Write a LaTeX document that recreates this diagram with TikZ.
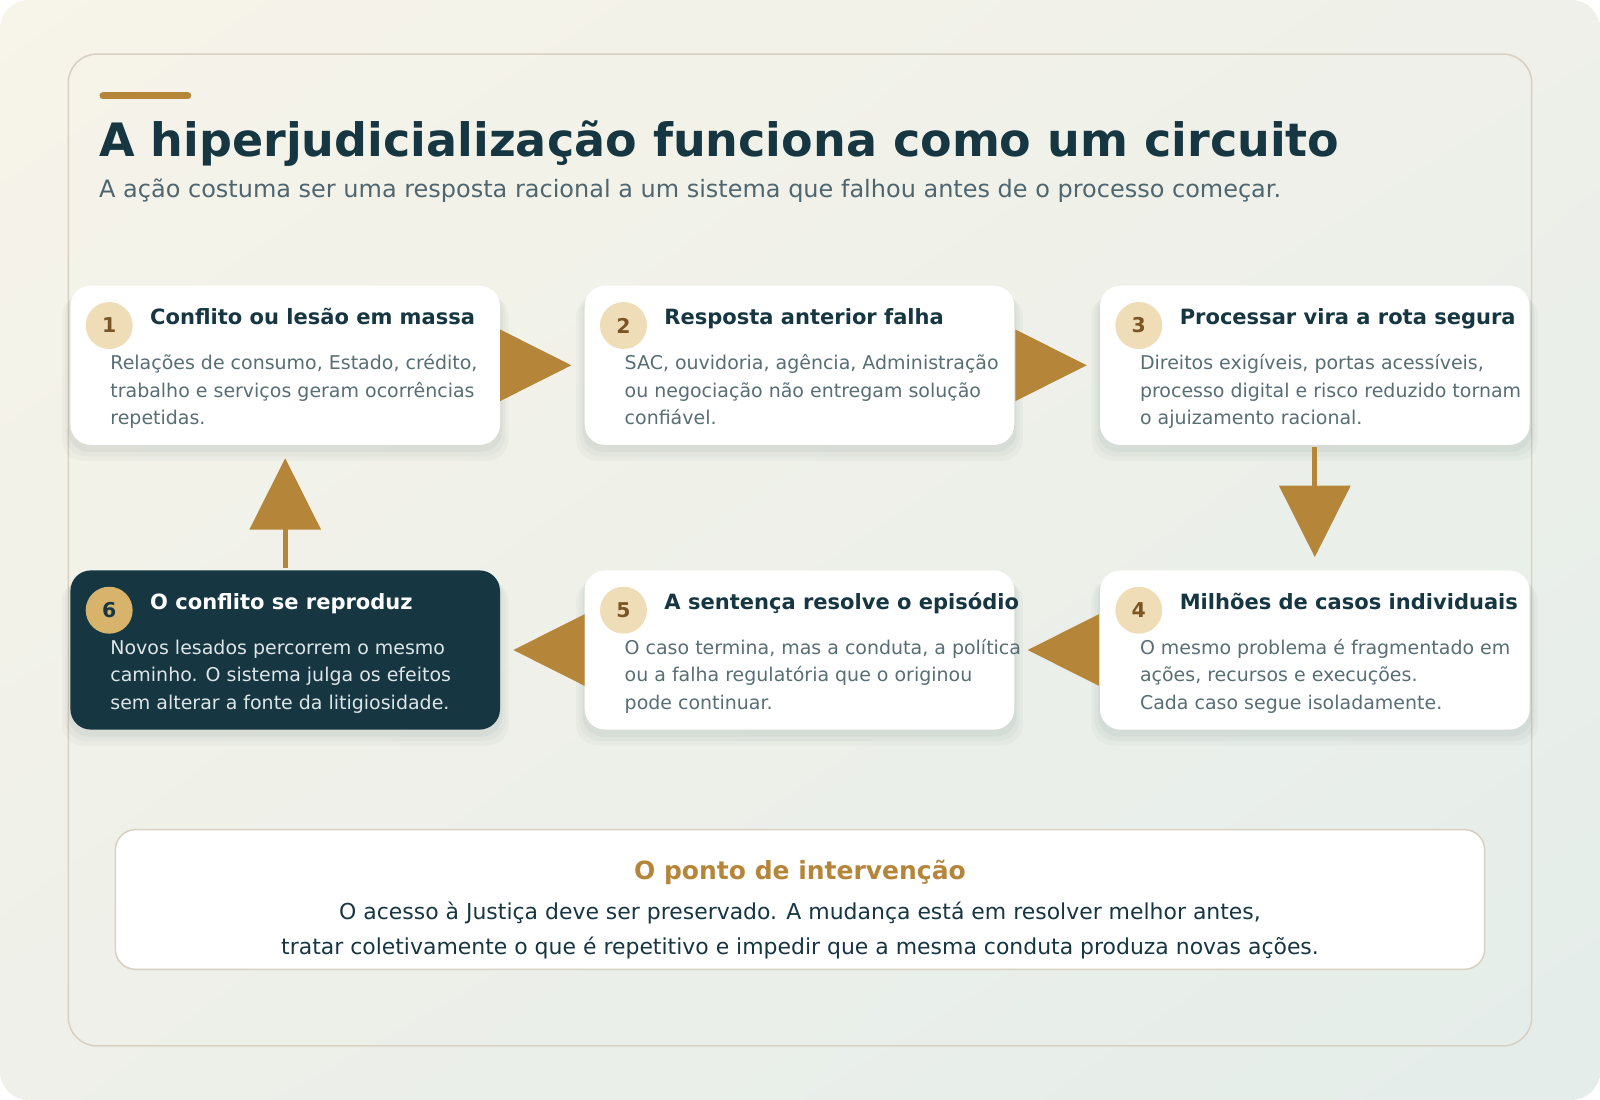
\documentclass[tikz,border=0pt]{standalone}
\usepackage{fontspec}
\setmainfont{DejaVu Sans}
\usetikzlibrary{positioning,arrows.meta,shadows,shadings}
\definecolor{ink}{HTML}{163642}
\definecolor{gold}{HTML}{B5863A}
\definecolor{cream}{HTML}{F7F4E9}
\definecolor{mint}{HTML}{E4EDEA}
\definecolor{midbg}{HTML}{EEF0E9}
\definecolor{rim}{HTML}{D8D0C2}
\definecolor{muted}{HTML}{586E75}
\definecolor{subtle}{HTML}{4E6670}
\definecolor{tan}{HTML}{EFDDB8}
\definecolor{brown}{HTML}{7B5523}
\definecolor{sand}{HTML}{D8B36C}
\definecolor{pale}{HTML}{DDE5E7}
\definecolor{haze}{HTML}{3E5A5A}

\begin{document}
\begin{tikzpicture}[x=1pt, y=-1pt,
  card/.style={rectangle, rounded corners=20pt, fill=white, minimum width=421pt, minimum height=156pt, inner sep=0pt, outer sep=0pt,
    general shadow={fill=haze, fill opacity=.035, shadow yshift=-12pt, shadow scale=1.04},
    general shadow={fill=haze, fill opacity=.04, shadow yshift=-9pt, shadow scale=1.025},
    general shadow={fill=haze, fill opacity=.05, shadow yshift=-6pt, shadow scale=1.01}},
  darkcard/.style={card, fill=ink},
  badge/.style={circle, fill=tan, text=brown, minimum size=46pt, inner sep=0pt, font=\fontsize{20}{24}\selectfont\bfseries},
  head/.style={anchor=base west, inner sep=0pt, text=ink, font=\fontsize{20.6}{24}\selectfont\bfseries},
  body/.style={anchor=north west, inner sep=0pt, align=left, text=muted, font=\fontsize{18.6}{27}\selectfont},
  flow/.style={draw=gold, line width=5pt, -{Triangle[length=70pt, width=69pt]}, shorten >=13pt, shorten <=2pt},
  note/.style={rectangle, rounded corners=20pt, draw=rim, line width=1.5pt, fill=white, minimum width=1342pt, minimum height=137pt},
  node distance=83pt]

\useasboundingbox (0,0) rectangle (1568,1078);
\shade[rounded corners=28pt, upper left=cream, upper right=midbg, lower left=midbg, lower right=mint] (0,0) rectangle (1568,1078);
\draw[rim, line width=1.5pt, rounded corners=28pt] (67,53) rectangle (1501,1025);
\draw[gold, line width=7pt, line cap=round] (101,94) -- (184,94);

\node[anchor=base west, inner sep=0pt, text=ink, font=\fontsize{45.1}{54}\selectfont\bfseries] (title) at (97,153) {A hiperjudicialização funciona como um circuito};
\node[anchor=base west, inner sep=0pt, text=subtle, font=\fontsize{23.5}{28}\selectfont] (sub) at (97,194) {A ação costuma ser uma resposta racional a um sistema que falhou antes de o processo começar.};

\node[card] (c1) at (279.5,358) {};
\node[card] (c2) [right=of c1] {};
\node[card] (c3) [right=84pt of c2] {};
\node[card] (c4) [below=123pt of c3] {};
\node[card] (c5) [left=84pt of c4] {};
\node[darkcard] (c6) [left=of c5] {};

\draw[flow] (c1) -- (c2);
\draw[flow] (c2) -- (c3);
\draw[flow] (c3) -- (c4);
\draw[flow] (c4) -- (c5);
\draw[flow] (c5) -- (c6);
\draw[flow] (c6) -- (c1);

\node[badge, xshift=38pt, yshift=-39pt] (b1) at (c1.north west) {1};
\node[badge, xshift=38pt, yshift=-39pt] (b2) at (c2.north west) {2};
\node[badge, xshift=38pt, yshift=-39pt] (b3) at (c3.north west) {3};
\node[badge, xshift=38pt, yshift=-39pt] (b4) at (c4.north west) {4};
\node[badge, xshift=38pt, yshift=-39pt] (b5) at (c5.north west) {5};
\node[badge, fill=sand, text=ink, xshift=38pt, yshift=-39pt] (b6) at (c6.north west) {6};

\node[head, xshift=78pt, yshift=-38pt] (h1) at (c1.north west) {Conflito ou lesão em massa};
\node[head, xshift=78pt, yshift=-38pt] (h2) at (c2.north west) {Resposta anterior falha};
\node[head, xshift=78pt, yshift=-38pt] (h3) at (c3.north west) {Processar vira a rota segura};
\node[head, xshift=78pt, yshift=-38pt] (h4) at (c4.north west) {Milhões de casos individuais};
\node[head, xshift=78pt, yshift=-38pt] (h5) at (c5.north west) {A sentença resolve o episódio};
\node[head, text=white, xshift=78pt, yshift=-38pt] (h6) at (c6.north west) {O conflito se reproduz};

\node[body, xshift=39pt, yshift=-63pt] (t1) at (c1.north west) {\strut Relações de consumo, Estado, crédito,\\trabalho e serviços geram ocorrências\\repetidas.};
\node[body, xshift=39pt, yshift=-63pt] (t2) at (c2.north west) {\strut SAC, ouvidoria, agência, Administração\\ou negociação não entregam solução\\confiável.};
\node[body, xshift=39pt, yshift=-63pt] (t3) at (c3.north west) {\strut Direitos exigíveis, portas acessíveis,\\processo digital e risco reduzido tornam\\o ajuizamento racional.};
\node[body, xshift=39pt, yshift=-63pt] (t4) at (c4.north west) {\strut O mesmo problema é fragmentado em\\ações, recursos e execuções.\\Cada caso segue isoladamente.};
\node[body, xshift=39pt, yshift=-63pt] (t5) at (c5.north west) {\strut O caso termina, mas a conduta, a política\\ou a falha regulatória que o originou\\pode continuar.};
\node[body, text=pale, xshift=39pt, yshift=-63pt] (t6) at (c6.north west) {\strut Novos lesados percorrem o mesmo\\caminho. O sistema julga os efeitos\\sem alterar a fonte da litigiosidade.};

\node[note] (n) at (784,881.5) {};
\node[anchor=base, inner sep=0pt, text=gold, font=\fontsize{24.5}{28}\selectfont\bfseries] (nh) at (784,862) {O ponto de intervenção};
\node[anchor=base, inner sep=0pt, text=ink, font=\fontsize{21.5}{26}\selectfont] (n1) at (784,901) {O acesso à Justiça deve ser preservado. A mudança está em resolver melhor antes,};
\node[anchor=base, inner sep=0pt, text=ink, font=\fontsize{21.5}{26}\selectfont] (n2) at (784,935) {tratar coletivamente o que é repetitivo e impedir que a mesma conduta produza novas ações.};

\end{tikzpicture}
\end{document}
